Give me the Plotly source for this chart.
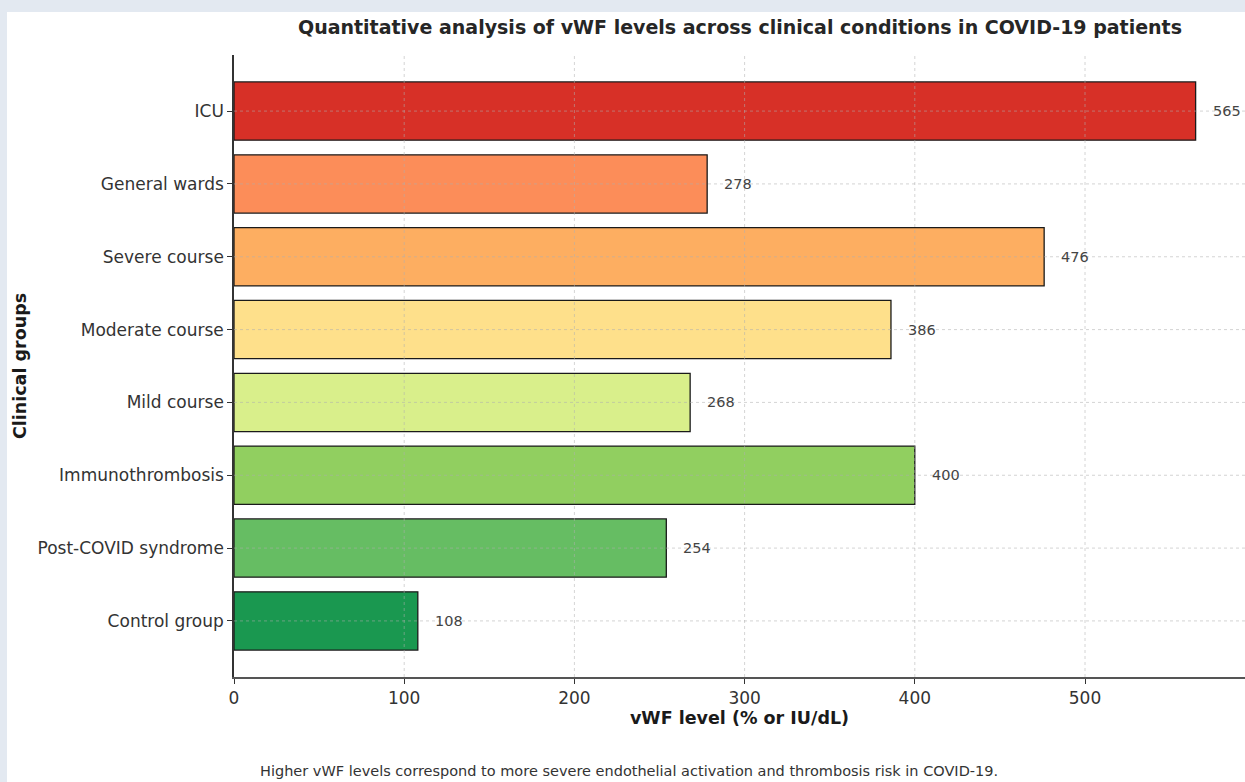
import plotly.graph_objects as go

# Data
groups = ["ICU", "General wards", "Severe course", "Moderate course",
          "Mild course", "Immunothrombosis", "Post-COVID syndrome", "Control group"]
vwf_levels = [565, 278, 476, 386, 268, 400, 254, 108]
bar_colors = ["#d73027", "#fc8d59", "#fdae61", "#fee08b",
              "#d9ef8b", "#91cf60", "#66bd63", "#1a9850"]
x_ticks = [0, 100, 200, 300, 400, 500]

W, H = 1245, 782
L, R, T, B = 234, 0, 55, 105
pw, ph = W - L - R, H - T - B

font = "DejaVu Sans"
fig = go.Figure()

fig.add_trace(go.Bar(
    y=groups, x=vwf_levels, orientation="h",
    marker=dict(color=bar_colors, line=dict(color="#1a1a1a", width=1.3)),
    width=0.8, hoverinfo="x+y", showlegend=False,
))

# value labels at bar ends
for g, v in zip(groups, vwf_levels):
    fig.add_annotation(x=v, y=g, text=str(v), showarrow=False,
                       xanchor="left", xshift=15,
                       font=dict(family=font, size=14.5, color="#444444"))

grid_line = dict(color="rgba(175,175,175,0.6)", width=0.9, dash="3px,3px")
shapes = []
# white panel on a light page
shapes.append(dict(type="rect", xref="paper", yref="paper",
                   x0=(7 - L) / pw, x1=1.01, y0=-(B + 5) / ph, y1=1 + (T - 12) / ph,
                   fillcolor="white", line=dict(width=0), layer="below"))
# dashed grid drawn over the bars
for t in x_ticks[1:]:
    shapes.append(dict(type="line", xref="x", yref="paper", x0=t, x1=t, y0=0, y1=1,
                       line=grid_line, layer="above"))
for g in groups:
    shapes.append(dict(type="line", xref="paper", yref="y", x0=0, x1=1, y0=g, y1=g,
                       line=grid_line, layer="above"))

fig.update_layout(
    width=W, height=H,
    margin=dict(l=L, r=R, t=T, b=B),
    paper_bgcolor="#e3e9f1", plot_bgcolor="white",
    shapes=shapes,
    bargap=0.2,
    title=dict(text="<b>Quantitative analysis of vWF levels across clinical conditions in COVID-19 patients</b>",
               x=740 / W, xanchor="center", y=1 - 27 / H, yanchor="middle",
               font=dict(family=font, size=19, color="#262626")),
    font=dict(family=font, color="#333333"),
)

fig.update_xaxes(
    range=[0, (W - L) / 1.702], tickvals=x_ticks, ticks="outside", ticklen=5,
    tickcolor="#333333", showgrid=False, zeroline=False,
    showline=True, linecolor="#555555", linewidth=2,
    tickfont=dict(family=font, size=17, color="#333333"),
    title=dict(text="<b>vWF level (% or IU/dL)</b>", standoff=4,
               font=dict(family=font, size=17.5, color="#1a1a1a")),
)
fig.update_yaxes(
    categoryorder="array", categoryarray=groups, autorange=False,
    range=[7.77, -0.77], ticks="outside", ticklen=5, tickcolor="#333333",
    showgrid=False, showline=True, linecolor="#333333", linewidth=1.5,
    tickfont=dict(family=font, size=17, color="#333333"),
    title=dict(text="<b>Clinical groups</b>", standoff=6,
               font=dict(family=font, size=17.5, color="#1a1a1a")),
)

fig.add_annotation(
    text="Higher vWF levels correspond to more severe endothelial activation and thrombosis risk in COVID-19.",
    xref="paper", yref="paper", x=(629 - L) / pw, y=-(771 - T - ph) / ph,
    xanchor="center", yanchor="middle", showarrow=False,
    font=dict(family=font, size=14.5, color="#333333"),
)

fig.write_html("out.html")
